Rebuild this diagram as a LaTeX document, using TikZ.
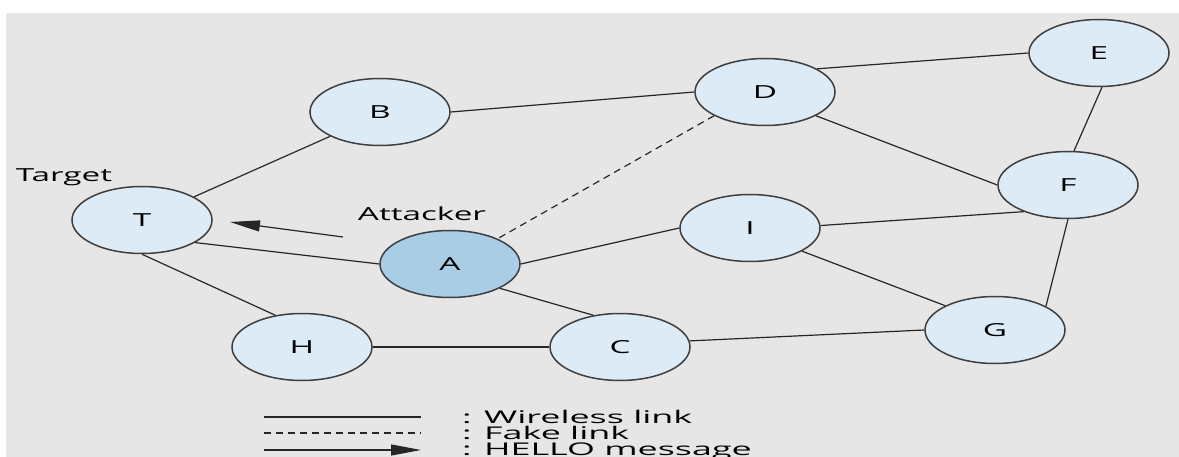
\documentclass[tikz,border=0pt]{standalone}
\usepackage{fontspec}
\setmainfont{Open Sans}
\usetikzlibrary{arrows.meta,shapes.geometric}
\definecolor{nodefill}{HTML}{DDEBF7}
\definecolor{attfill}{HTML}{AACDE6}
\definecolor{bggray}{HTML}{E6E6E6}
\definecolor{rim}{HTML}{3F3F3F}
\newcommand{\wtext}[1]{\scalebox{1.85}[1]{#1}}
\newcommand{\ltext}[1]{\scalebox{2.05}[1]{#1}}
\tikzset{
  host/.style={ellipse,draw=rim,line width=1.5pt,fill=nodefill,minimum width=140pt,minimum height=67pt,inner sep=0pt,font=\fontsize{18}{18}\selectfont},
  link/.style={draw=black!85,line width=1.2pt},
  fake/.style={link,dash pattern=on 7pt off 5pt},
  hello/.style={link,-{Triangle[length=30pt,width=11pt]}},
  caption/.style={font=\fontsize{18}{18}\selectfont,text=black,inner sep=0pt},
  legendtext/.style={caption,font=\fontsize{17.5}{17.5}\selectfont,anchor=base west}
}
\begin{document}
\begin{tikzpicture}[x=1pt,y=-1pt]
\useasboundingbox (0,0) rectangle (1179,457);
\clip (0,0) rectangle (1179,457);
\fill[bggray] (6,13) rectangle (1179,457);
% hosts
\node[host] (T) at (142,220) {\wtext{T}};
\node[host] (B) at (380,112) {\wtext{B}};
\node[host] (D) at (765,92) {\wtext{D}};
\node[host] (E) at (1099,53) {\wtext{E}};
\node[host] (F) at (1068,185) {\wtext{F}};
\node[host] (I) at (750,228) {\wtext{I}};
\node[host,fill=attfill] (A) at (450,264) {\wtext{A}};
\node[host] (H) at (302,347) {\wtext{H}};
\node[host] (C) at (620,347) {\wtext{C}};
\node[host] (G) at (995,330) {\wtext{G}};
\node[caption] (target) at (64,177) {\wtext{Target}};
\node[caption] (attacker) at (422,214) {\wtext{Attacker}};
% links
\draw[link] (T.24) -- (B.-154);
\draw[link] (T.-23) -- (A.180);
\draw[link] (T.-90) -- (H.130);
\draw[link] (B.0) -- (D.180);
\draw[link] (D.24) -- (E.180);
\draw[link] (D.-25) -- (F.180);
\draw[link] (E.-85) -- (F.80);
\draw[link] (F.-149) -- (I.2);
\draw[link] (F.-90) -- (G.25);
\draw[link] (A.0) -- (I.180);
\draw[link] (A.-26) -- (C.130);
\draw[link] (I.-24) -- (G.154);
\draw[link] (H.0) -- (C.180);
\draw[link] (C.5) -- (G.180);
\draw[fake] (D.205) -- (A.28);
% hello message
\coordinate (hello tail) at (343,237);
\coordinate (hello tip) at (230,222);
\draw[hello] (hello tail) -- (hello tip);
% legend
\coordinate (l1a) at (264,417); \coordinate (l1b) at (421,417);
\coordinate (l2a) at (264,433); \coordinate (l2b) at (421,433);
\coordinate (l3a) at (264,450); \coordinate (l3b) at (421,450);
\draw[link] (l1a) -- (l1b);
\draw[fake] (l2a) -- (l2b);
\draw[hello] (l3a) -- (l3b);
\node[legendtext] (wireless) at (462,423) {\ltext{: Wireless link}};
\node[legendtext] (fakelink) at (462,439) {\ltext{: Fake link}};
\node[legendtext] (hellomsg) at (462,455) {\ltext{: HELLO message}};
\end{tikzpicture}
\end{document}
